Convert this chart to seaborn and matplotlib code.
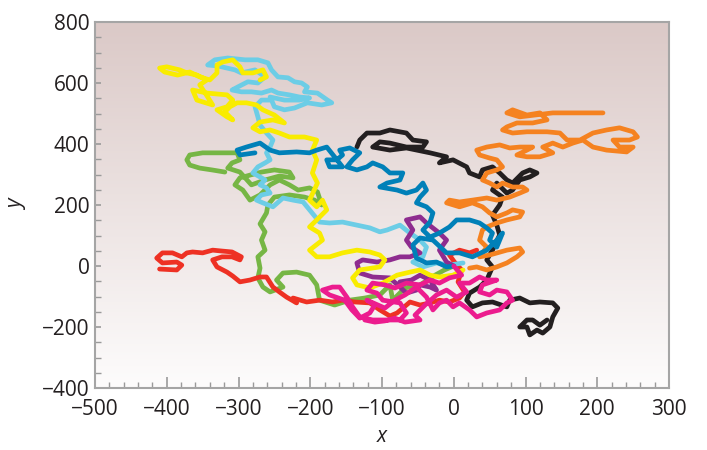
import numpy as np
import pandas as pd
import matplotlib
matplotlib.use("Agg")
import matplotlib.pyplot as plt
from matplotlib.ticker import MultipleLocator
import seaborn as sns

# ---- data (data units) ----
green_x = [0, -13, -26, -47, -68, -85, -89, -103, -124, -145, -166, -187, -191, -201, -219, -238, -247, -238, -256, -266, -273, -270, -273, -263, -268, -263, -270, -261, -259, -250, -229, -208, -194, -184, -190, -201, -217, -229, -243, -256, -270, -284, -294, -305, -298, -284, -268, -250, -229, -224, -243, -263, -282, -298, -315, -309, -298, -302, -326, -350, -368, -372, -368, -354, -337, -319]
green_y = [0, -13, -30, -62, -72, -112, -62, -95, -105, -112, -128, -112, -62, -30, -20, -23, -46, -69, -85, -69, -39, -7, 30, 52, 85, 112, 138, 174, 200, 226, 233, 226, 216, 200, 243, 256, 249, 266, 282, 266, 233, 216, 249, 266, 289, 298, 308, 315, 308, 289, 295, 282, 266, 308, 321, 338, 348, 371, 371, 371, 364, 348, 331, 321, 315, 308]

red_x = [-410, -386, -379, -386, -406, -414, -406, -392, -379, -372, -364, -350, -336, -323, -309, -296, -298, -309, -323, -336, -330, -316, -308, -298, -284, -270, -261, -252, -243, -233, -219, -224, -205, -187, -169, -155, -138, -117, -103, -89, -79, -61, -47, -33, -20, -6, 8, 15, 6, 11, 1, -6, 8, 22, 32]
red_y = [-10, -13, 3, 13, 10, 26, 43, 43, 30, 43, 46, 43, 52, 49, 46, 30, 20, 30, 30, 20, -3, -20, -33, -52, -46, -36, -36, -69, -85, -102, -121, -105, -118, -112, -118, -112, -118, -121, -144, -164, -154, -118, -128, -121, -112, -118, -105, -85, -52, -13, 13, 36, 52, 43, 52]

cyan_x = [13, -6, -24, -43, -57, -43, -38, -47, -61, -75, -93, -103, -117, -135, -155, -173, -187, -210, -224, -238, -252, -266, -275, -268, -256, -261, -270, -263, -270, -280, -273, -263, -256, -261, -256, -252, -261, -270, -273, -277, -268, -254, -250, -236, -222, -204, -184, -170, -176, -190, -208, -204, -212, -222, -231, -245, -254, -259, -273, -291, -315, -333, -343, -329, -305, -296, -277, -263, -273, -287, -301, -309, -296, -282, -268, -254, -245, -229, -215, -201, -215, -236, -256]
cyan_y = [10, 3, 10, -3, 13, 30, 62, 85, 108, 134, 118, 112, 125, 134, 144, 141, 144, 210, 216, 223, 194, 207, 216, 233, 239, 256, 266, 282, 292, 305, 325, 338, 348, 371, 390, 413, 436, 462, 489, 522, 544, 544, 522, 512, 518, 535, 528, 535, 544, 567, 571, 587, 600, 604, 617, 620, 643, 666, 676, 676, 682, 676, 659, 656, 643, 633, 643, 620, 600, 604, 587, 577, 571, 571, 567, 577, 567, 561, 554, 551, 544, 544, 554]

purple_x = [0, -10, -20, -10, -20, -38, -47, -66, -57, -66, -59, -47, -61, -75, -89, -107, -127, -135, -131, -113, -89, -75, -66, -52, -47, -33, -24, -33, -47, -59, -75]
purple_y = [0, 13, 52, 85, 108, 141, 161, 151, 118, 85, 62, 43, 30, 30, 20, 13, 20, 10, -23, -36, -39, -69, -89, -79, -62, -69, -79, -46, -30, -46, -52]

black_x = [130, 120, 110, 102, 92, 102, 106, 116, 124, 134, 138, 145, 138, 120, 106, 92, 78, 74, 54, 40, 26, 18, 22, 36, 46, 54, 46, 54, 64, 60, 54, 64, 68, 54, 60, 74, 82, 92, 106, 116, 106, 96, 82, 74, 64, 54, 40, 36, 22, 18, -1, -20, -10, -33, -66, -89, -113, -103, -89, -66, -43, -38, -57, -66, -89, -103, -121, -131, -135]
black_y = [-177, -194, -177, -177, -200, -200, -226, -210, -220, -200, -167, -138, -121, -118, -121, -105, -112, -134, -118, -121, -134, -112, -89, -69, -46, -3, 20, 52, 102, 134, 167, 200, 226, 249, 272, 239, 249, 282, 292, 305, 315, 305, 272, 282, 305, 325, 315, 292, 305, 325, 348, 338, 358, 371, 387, 380, 390, 407, 403, 390, 390, 407, 413, 436, 446, 436, 436, 413, 390]

orange_x = [22, 32, 46, 60, 74, 88, 96, 92, 74, 50, 36, 46, 36, 40, 46, 60, 74, 92, 96, 82, 74, 60, 50, 40, 26, 8, -10, -6, 8, 26, 46, 60, 78, 92, 102, 96, 82, 68, 60, 50, 40, 46, 60, 68, 60, 50, 36, 32, 46, 64, 78, 92, 110, 102, 88, 102, 120, 138, 124, 138, 152, 166, 180, 194, 213, 241, 250, 231, 222, 245, 256, 250, 231, 213, 194, 176, 158, 148, 130, 102, 82, 68, 74, 88, 110, 130, 120, 102, 82, 74, 92, 138, 166, 208]
orange_y = [-7, -3, -13, -3, 10, 30, 46, 59, 52, 36, 30, 62, 85, 118, 128, 141, 151, 161, 177, 184, 174, 161, 174, 194, 207, 194, 207, 216, 210, 216, 223, 216, 226, 239, 249, 259, 259, 272, 259, 272, 282, 305, 315, 325, 348, 354, 364, 380, 390, 397, 387, 390, 390, 380, 364, 358, 358, 371, 390, 403, 390, 403, 413, 390, 380, 374, 390, 390, 413, 413, 423, 440, 453, 446, 436, 413, 413, 436, 440, 440, 436, 446, 456, 469, 469, 479, 502, 495, 512, 502, 489, 502, 502, 502]

yellow_x = [13, -1, -20, -33, -47, -61, -79, -99, -117, -135, -141, -131, -103, -96, -103, -117, -135, -155, -173, -191, -201, -183, -187, -201, -191, -177, -183, -191, -201, -190, -197, -191, -197, -191, -208, -229, -243, -256, -270, -280, -270, -252, -236, -250, -266, -275, -289, -302, -312, -319, -308, -316, -330, -316, -308, -316, -344, -364, -358, -336, -344, -354, -344, -358, -372, -382, -400, -410, -403, -385, -368, -354, -340, -330, -330, -322, -308, -298, -294, -280, -266, -261, -270]
yellow_y = [-13, -30, -36, -30, -13, -20, -30, -56, -72, -62, -39, -13, -3, 20, 36, 46, 52, 43, 30, 30, 52, 85, 108, 128, 151, 184, 216, 194, 216, 272, 305, 348, 380, 413, 423, 423, 436, 446, 440, 453, 472, 479, 469, 495, 512, 528, 535, 535, 522, 505, 479, 489, 512, 522, 544, 561, 567, 577, 544, 528, 558, 594, 610, 626, 633, 643, 653, 649, 636, 626, 636, 620, 610, 633, 659, 669, 676, 653, 633, 633, 643, 620, 610]

blue_x = [0, -10, -24, -38, -52, -57, -47, -29, -10, 8, 26, 46, 60, 68, 60, 50, 54, 46, 36, 22, 4, -6, -20, -33, -43, -33, -29, -38, -52, -47, -38, -43, -52, -66, -79, -103, -93, -75, -71, -89, -99, -113, -121, -135, -149, -141, -131, -145, -159, -155, -163, -177, -173, -155, -177, -191, -201, -219, -243, -256, -270, -289, -302, -298, -277]
blue_y = [0, -3, 13, 10, 26, 69, 92, 85, 43, 43, 30, 52, 85, 108, 62, 85, 108, 125, 141, 151, 151, 128, 108, 95, 118, 144, 174, 194, 207, 226, 249, 272, 249, 239, 249, 259, 272, 282, 305, 305, 325, 338, 325, 315, 325, 348, 371, 387, 380, 364, 348, 348, 325, 325, 390, 380, 371, 374, 371, 380, 403, 390, 380, 364, 371]

pink_x = [0, 11, -6, -20, -33, -47, -66, -82, -96, -113, -121, -107, -99, -75, -66, -75, -89, -113, -131, -141, -149, -159, -169, -183, -173, -152, -142, -131, -117, -110, -121, -96, -82, -68, -52, -38, -29, -20, -10, -1, 8, 22, 32, 46, 64, 74, 82, 74, 60, 50, 36, 40, 60, 46, 36, 22, 8, 18, 4, -10, -24, -40, -54, -47, -68, -82, -96, -110, -124]
pink_y = [0, -30, -39, -56, -46, -62, -56, -72, -62, -56, -79, -89, -112, -121, -154, -177, -177, -177, -167, -134, -102, -69, -69, -79, -95, -112, -144, -171, -154, -128, -112, -138, -112, -95, -69, -102, -144, -121, -112, -134, -121, -144, -167, -154, -144, -121, -112, -85, -79, -95, -85, -62, -46, -46, -36, -56, -56, -85, -102, -79, -95, -128, -161, -177, -184, -171, -180, -184, -177]

walks = ["green", "red", "cyan", "purple", "black", "orange", "yellow", "blue", "pink"]
walk_x = [green_x, red_x, cyan_x, purple_x, black_x, orange_x, yellow_x, blue_x, pink_x]
walk_y = [green_y, red_y, cyan_y, purple_y, black_y, orange_y, yellow_y, blue_y, pink_y]
walk_colors = ["#76b645", "#ee3124", "#6ccde6", "#8e2c8f", "#231f20",
               "#f58220", "#f9ec00", "#0080b8", "#ec1c8e"]

x_ticks = [-500, -400, -300, -200, -100, 0, 100, 200, 300]
y_ticks = [-400, -200, 0, 200, 400, 600, 800]

frames = []
for name, xs, ys in zip(walks, walk_x, walk_y):
    frames.append(pd.DataFrame({"x": xs, "y": ys, "walk": name, "step": np.arange(len(xs))}))
df = pd.concat(frames, ignore_index=True)

# ---- style ----
sns.set_style("white")
plt.rcParams["font.family"] = ["Open Sans", "DejaVu Sans"]
text_col = "#231f20"

fig = plt.figure(figsize=(7.07, 4.5), dpi=100)
ax = fig.add_axes([95 / 707, 1 - 388 / 450, (669 - 95) / 707, (388 - 22) / 450])

# gradient background
top = np.array([219, 201, 199]) / 255
bot = np.array([253, 252, 252]) / 255
t = np.linspace(0, 1, 256)[:, None]
grad = (top[None, :] * (1 - t) + bot[None, :] * t)[:, None, :]
ax.imshow(grad, extent=(x_ticks[0], x_ticks[-1], y_ticks[0], y_ticks[-1]),
          aspect="auto", zorder=0, interpolation="bilinear")

sns.lineplot(data=df, x="x", y="y", hue="walk", hue_order=walks,
             palette=dict(zip(walks, walk_colors)), sort=False, estimator=None,
             units="walk", lw=3.4, legend=False, ax=ax,
             solid_capstyle="round", solid_joinstyle="round")
for ln in ax.lines:
    ln.set_zorder(2)

ax.set_xlim(x_ticks[0], x_ticks[-1])
ax.set_ylim(y_ticks[0], y_ticks[-1])
ax.set_xticks(x_ticks)
ax.set_yticks(y_ticks)
ax.xaxis.set_minor_locator(MultipleLocator(20))
ax.yaxis.set_minor_locator(MultipleLocator(50))

tick_col = "#9a9a9a"
ax.tick_params(axis="x", which="major", direction="in", length=8, width=1.2,
               color=tick_col, labelsize=15, labelcolor=text_col, pad=8, bottom=True)
ax.tick_params(axis="x", which="minor", direction="in", length=4, width=1.0,
               color=tick_col, bottom=True)
ax.tick_params(axis="y", which="major", direction="in", length=4.5, width=1.2,
               color=tick_col, labelsize=15, labelcolor=text_col, pad=4, left=True)
ax.tick_params(axis="y", which="minor", direction="in", length=4.5, width=1.0,
               color=tick_col, left=True)

for s in ax.spines.values():
    s.set_visible(True)
    s.set_color("#a5a5a5")
    s.set_linewidth(1.5)

ax.set_xlabel("x", fontsize=15, style="italic", color=text_col, labelpad=4)
ax.set_ylabel("y", fontsize=15, style="italic", color=text_col, labelpad=10)

fig.savefig("out.png", dpi=100)
